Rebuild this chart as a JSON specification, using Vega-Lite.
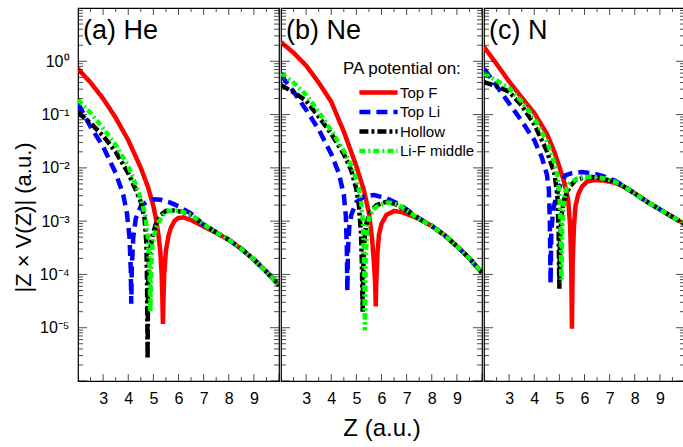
{
  "$schema": "https://vega.github.io/schema/vega-lite/v6.json",
  "padding": {"left": 11, "top": 7, "right": 0, "bottom": 0},
  "background": "white",
  "datasets": {
    "d": [
      {"p":"a","s":"Top F","z":2,"v":0.724},{"p":"a","s":"Top F","z":2.5,"v":0.398},{"p":"a","s":"Top F","z":3,"v":0.1995},{"p":"a","s":"Top F","z":3.5,"v":0.0871},{"p":"a","s":"Top F","z":4,"v":0.0331},{"p":"a","s":"Top F","z":4.5,"v":0.01},{"p":"a","s":"Top F","z":4.8,"v":0.00417},{"p":"a","s":"Top F","z":5,"v":0.001905},{"p":"a","s":"Top F","z":5.1,"v":0.001122},{"p":"a","s":"Top F","z":5.2,"v":0.000562},{"p":"a","s":"Top F","z":5.28,"v":0.000251},{"p":"a","s":"Top F","z":5.33,"v":0.0001},{"p":"a","s":"Top F","z":5.36,"v":0.0000316},{"p":"a","s":"Top F","z":5.38,"v":0.00001175},{"p":"a","s":"Top F","z":5.4,"v":0.0000316},{"p":"a","s":"Top F","z":5.43,"v":0.0001},{"p":"a","s":"Top F","z":5.5,"v":0.000282},{"p":"a","s":"Top F","z":5.6,"v":0.000525},{"p":"a","s":"Top F","z":5.7,"v":0.000759},{"p":"a","s":"Top F","z":5.85,"v":0.001023},{"p":"a","s":"Top F","z":6,"v":0.001148},{"p":"a","s":"Top F","z":6.2,"v":0.001175},{"p":"a","s":"Top F","z":6.5,"v":0.001047},{"p":"a","s":"Top F","z":7,"v":0.000794},{"p":"a","s":"Top F","z":7.5,"v":0.000603},{"p":"a","s":"Top F","z":8,"v":0.000447},{"p":"a","s":"Top F","z":8.5,"v":0.000302},{"p":"a","s":"Top F","z":9,"v":0.0001905},{"p":"a","s":"Top F","z":9.5,"v":0.0001122},{"p":"a","s":"Top F","z":10,"v":0.0000631},

      {"p":"a","s":"Top Li","z":2,"v":0.162},{"p":"a","s":"Top Li","z":2.5,"v":0.0589},{"p":"a","s":"Top Li","z":3,"v":0.0251},{"p":"a","s":"Top Li","z":3.5,"v":0.00794},{"p":"a","s":"Top Li","z":3.8,"v":0.00316},{"p":"a","s":"Top Li","z":3.95,"v":0.00138},{"p":"a","s":"Top Li","z":4.05,"v":0.000501},{"p":"a","s":"Top Li","z":4.1,"v":0.0001259},{"p":"a","s":"Top Li","z":4.12,"v":0.0000282},{"p":"a","s":"Top Li","z":4.14,"v":0.0001259},{"p":"a","s":"Top Li","z":4.2,"v":0.000501},{"p":"a","s":"Top Li","z":4.3,"v":0.001122},{"p":"a","s":"Top Li","z":4.5,"v":0.001905},{"p":"a","s":"Top Li","z":4.75,"v":0.002344},{"p":"a","s":"Top Li","z":5,"v":0.00257},{"p":"a","s":"Top Li","z":5.3,"v":0.00251},{"p":"a","s":"Top Li","z":5.6,"v":0.00229},{"p":"a","s":"Top Li","z":6,"v":0.001905},{"p":"a","s":"Top Li","z":6.5,"v":0.00138},{"p":"a","s":"Top Li","z":7,"v":0.000851},{"p":"a","s":"Top Li","z":7.5,"v":0.000617},{"p":"a","s":"Top Li","z":8,"v":0.000447},{"p":"a","s":"Top Li","z":8.5,"v":0.000302},{"p":"a","s":"Top Li","z":9,"v":0.0001905},{"p":"a","s":"Top Li","z":9.5,"v":0.0001122},{"p":"a","s":"Top Li","z":10,"v":0.0000631},

      {"p":"a","s":"Hollow","z":2,"v":0.1096},{"p":"a","s":"Hollow","z":2.5,"v":0.0692},{"p":"a","s":"Hollow","z":3,"v":0.0398},{"p":"a","s":"Hollow","z":3.5,"v":0.02},{"p":"a","s":"Hollow","z":4,"v":0.00794},{"p":"a","s":"Hollow","z":4.3,"v":0.00389},{"p":"a","s":"Hollow","z":4.5,"v":0.00229},{"p":"a","s":"Hollow","z":4.65,"v":0.001122},{"p":"a","s":"Hollow","z":4.72,"v":0.000398},{"p":"a","s":"Hollow","z":4.75,"v":0.0000631},{"p":"a","s":"Hollow","z":4.77,"v":0.00000263},{"p":"a","s":"Hollow","z":4.79,"v":0.0000631},{"p":"a","s":"Hollow","z":4.83,"v":0.0002},{"p":"a","s":"Hollow","z":4.95,"v":0.000501},{"p":"a","s":"Hollow","z":5.1,"v":0.000891},{"p":"a","s":"Hollow","z":5.3,"v":0.001318},{"p":"a","s":"Hollow","z":5.5,"v":0.001549},{"p":"a","s":"Hollow","z":5.8,"v":0.001585},{"p":"a","s":"Hollow","z":6.2,"v":0.001479},{"p":"a","s":"Hollow","z":6.5,"v":0.001318},{"p":"a","s":"Hollow","z":7,"v":0.000871},{"p":"a","s":"Hollow","z":7.5,"v":0.000617},{"p":"a","s":"Hollow","z":8,"v":0.000447},{"p":"a","s":"Hollow","z":8.5,"v":0.000302},{"p":"a","s":"Hollow","z":9,"v":0.0001905},{"p":"a","s":"Hollow","z":9.5,"v":0.0001122},{"p":"a","s":"Hollow","z":10,"v":0.0000631},

      {"p":"a","s":"Li-F middle","z":2,"v":0.1905},{"p":"a","s":"Li-F middle","z":2.5,"v":0.1072},{"p":"a","s":"Li-F middle","z":3,"v":0.055},{"p":"a","s":"Li-F middle","z":3.5,"v":0.0269},{"p":"a","s":"Li-F middle","z":4,"v":0.01072},{"p":"a","s":"Li-F middle","z":4.3,"v":0.00479},{"p":"a","s":"Li-F middle","z":4.5,"v":0.00263},{"p":"a","s":"Li-F middle","z":4.67,"v":0.00138},{"p":"a","s":"Li-F middle","z":4.78,"v":0.000501},{"p":"a","s":"Li-F middle","z":4.85,"v":0.0001259},{"p":"a","s":"Li-F middle","z":4.88,"v":0.00002},{"p":"a","s":"Li-F middle","z":4.91,"v":0.0001259},{"p":"a","s":"Li-F middle","z":4.96,"v":0.000355},{"p":"a","s":"Li-F middle","z":5.1,"v":0.000759},{"p":"a","s":"Li-F middle","z":5.22,"v":0.000977},{"p":"a","s":"Li-F middle","z":5.4,"v":0.001318},{"p":"a","s":"Li-F middle","z":5.6,"v":0.001549},{"p":"a","s":"Li-F middle","z":6,"v":0.001585},{"p":"a","s":"Li-F middle","z":6.5,"v":0.001318},{"p":"a","s":"Li-F middle","z":7,"v":0.000871},{"p":"a","s":"Li-F middle","z":7.5,"v":0.000617},{"p":"a","s":"Li-F middle","z":8,"v":0.000447},{"p":"a","s":"Li-F middle","z":8.5,"v":0.000302},{"p":"a","s":"Li-F middle","z":9,"v":0.0001905},{"p":"a","s":"Li-F middle","z":9.5,"v":0.0001122},{"p":"a","s":"Li-F middle","z":10,"v":0.0000631},

      {"p":"b","s":"Top F","z":2,"v":2.29},{"p":"b","s":"Top F","z":2.5,"v":1.445},{"p":"b","s":"Top F","z":3,"v":0.832},{"p":"b","s":"Top F","z":3.5,"v":0.398},{"p":"b","s":"Top F","z":4,"v":0.174},{"p":"b","s":"Top F","z":4.5,"v":0.0479},{"p":"b","s":"Top F","z":5,"v":0.01072},{"p":"b","s":"Top F","z":5.3,"v":0.0038},{"p":"b","s":"Top F","z":5.5,"v":0.001413},{"p":"b","s":"Top F","z":5.62,"v":0.000501},{"p":"b","s":"Top F","z":5.7,"v":0.0001585},{"p":"b","s":"Top F","z":5.75,"v":0.0000631},{"p":"b","s":"Top F","z":5.77,"v":0.0000251},{"p":"b","s":"Top F","z":5.79,"v":0.0000631},{"p":"b","s":"Top F","z":5.84,"v":0.000251},{"p":"b","s":"Top F","z":5.9,"v":0.000562},{"p":"b","s":"Top F","z":6,"v":0.000891},{"p":"b","s":"Top F","z":6.2,"v":0.001318},{"p":"b","s":"Top F","z":6.5,"v":0.001549},{"p":"b","s":"Top F","z":6.8,"v":0.001479},{"p":"b","s":"Top F","z":7.2,"v":0.001259},{"p":"b","s":"Top F","z":7.5,"v":0.001096},{"p":"b","s":"Top F","z":8,"v":0.000813},{"p":"b","s":"Top F","z":8.5,"v":0.00055},{"p":"b","s":"Top F","z":9,"v":0.000339},{"p":"b","s":"Top F","z":9.5,"v":0.0002},{"p":"b","s":"Top F","z":10,"v":0.0001072},

      {"p":"b","s":"Top Li","z":2,"v":0.55},{"p":"b","s":"Top Li","z":2.5,"v":0.269},{"p":"b","s":"Top Li","z":3,"v":0.123},{"p":"b","s":"Top Li","z":3.5,"v":0.0525},{"p":"b","s":"Top Li","z":4,"v":0.0182},{"p":"b","s":"Top Li","z":4.3,"v":0.00794},{"p":"b","s":"Top Li","z":4.5,"v":0.00316},{"p":"b","s":"Top Li","z":4.58,"v":0.001259},{"p":"b","s":"Top Li","z":4.62,"v":0.000316},{"p":"b","s":"Top Li","z":4.64,"v":0.0000479},{"p":"b","s":"Top Li","z":4.67,"v":0.000316},{"p":"b","s":"Top Li","z":4.72,"v":0.000794},{"p":"b","s":"Top Li","z":4.8,"v":0.001318},{"p":"b","s":"Top Li","z":5,"v":0.00229},{"p":"b","s":"Top Li","z":5.3,"v":0.00288},{"p":"b","s":"Top Li","z":5.7,"v":0.00309},{"p":"b","s":"Top Li","z":6.2,"v":0.00269},{"p":"b","s":"Top Li","z":6.6,"v":0.00219},{"p":"b","s":"Top Li","z":7,"v":0.00166},{"p":"b","s":"Top Li","z":7.5,"v":0.001122},{"p":"b","s":"Top Li","z":8,"v":0.000813},{"p":"b","s":"Top Li","z":8.5,"v":0.00055},{"p":"b","s":"Top Li","z":9,"v":0.000339},{"p":"b","s":"Top Li","z":9.5,"v":0.0002},{"p":"b","s":"Top Li","z":10,"v":0.0001072},

      {"p":"b","s":"Hollow","z":2,"v":0.355},{"p":"b","s":"Hollow","z":2.5,"v":0.263},{"p":"b","s":"Hollow","z":3,"v":0.182},{"p":"b","s":"Hollow","z":3.5,"v":0.0912},{"p":"b","s":"Hollow","z":4,"v":0.0437},{"p":"b","s":"Hollow","z":4.5,"v":0.0182},{"p":"b","s":"Hollow","z":4.8,"v":0.00891},{"p":"b","s":"Hollow","z":5,"v":0.00398},{"p":"b","s":"Hollow","z":5.1,"v":0.002},{"p":"b","s":"Hollow","z":5.18,"v":0.000631},{"p":"b","s":"Hollow","z":5.22,"v":0.0001585},{"p":"b","s":"Hollow","z":5.25,"v":0.00002},{"p":"b","s":"Hollow","z":5.28,"v":0.0001585},{"p":"b","s":"Hollow","z":5.33,"v":0.000501},{"p":"b","s":"Hollow","z":5.4,"v":0.000912},{"p":"b","s":"Hollow","z":5.55,"v":0.001479},{"p":"b","s":"Hollow","z":5.8,"v":0.002},{"p":"b","s":"Hollow","z":6.16,"v":0.00229},{"p":"b","s":"Hollow","z":6.5,"v":0.00214},{"p":"b","s":"Hollow","z":7,"v":0.001585},{"p":"b","s":"Hollow","z":7.5,"v":0.001096},{"p":"b","s":"Hollow","z":8,"v":0.000813},{"p":"b","s":"Hollow","z":8.5,"v":0.00055},{"p":"b","s":"Hollow","z":9,"v":0.000339},{"p":"b","s":"Hollow","z":9.5,"v":0.0002},{"p":"b","s":"Hollow","z":10,"v":0.0001072},

      {"p":"b","s":"Li-F middle","z":2,"v":0.589},{"p":"b","s":"Li-F middle","z":2.5,"v":0.398},{"p":"b","s":"Li-F middle","z":3,"v":0.234},{"p":"b","s":"Li-F middle","z":3.5,"v":0.1122},{"p":"b","s":"Li-F middle","z":4,"v":0.0501},{"p":"b","s":"Li-F middle","z":4.5,"v":0.0209},{"p":"b","s":"Li-F middle","z":4.85,"v":0.00977},{"p":"b","s":"Li-F middle","z":5.05,"v":0.00501},{"p":"b","s":"Li-F middle","z":5.18,"v":0.00263},{"p":"b","s":"Li-F middle","z":5.26,"v":0.001},{"p":"b","s":"Li-F middle","z":5.31,"v":0.0002},{"p":"b","s":"Li-F middle","z":5.34,"v":0.00000891},{"p":"b","s":"Li-F middle","z":5.37,"v":0.0002},{"p":"b","s":"Li-F middle","z":5.42,"v":0.000631},{"p":"b","s":"Li-F middle","z":5.51,"v":0.001202},{"p":"b","s":"Li-F middle","z":5.7,"v":0.001698},{"p":"b","s":"Li-F middle","z":5.9,"v":0.002},{"p":"b","s":"Li-F middle","z":6.3,"v":0.00224},{"p":"b","s":"Li-F middle","z":6.7,"v":0.002},{"p":"b","s":"Li-F middle","z":7,"v":0.001585},{"p":"b","s":"Li-F middle","z":7.5,"v":0.001096},{"p":"b","s":"Li-F middle","z":8,"v":0.000813},{"p":"b","s":"Li-F middle","z":8.5,"v":0.00055},{"p":"b","s":"Li-F middle","z":9,"v":0.000339},{"p":"b","s":"Li-F middle","z":9.5,"v":0.0002},{"p":"b","s":"Li-F middle","z":10,"v":0.0001072},

      {"p":"c","s":"Top F","z":2,"v":1.862},{"p":"c","s":"Top F","z":2.5,"v":0.891},{"p":"c","s":"Top F","z":3,"v":0.417},{"p":"c","s":"Top F","z":3.5,"v":0.209},{"p":"c","s":"Top F","z":4,"v":0.1072},{"p":"c","s":"Top F","z":4.5,"v":0.0437},{"p":"c","s":"Top F","z":4.8,"v":0.02},{"p":"c","s":"Top F","z":5,"v":0.01047},{"p":"c","s":"Top F","z":5.2,"v":0.00525},{"p":"c","s":"Top F","z":5.35,"v":0.00251},{"p":"c","s":"Top F","z":5.43,"v":0.000794},{"p":"c","s":"Top F","z":5.47,"v":0.0001585},{"p":"c","s":"Top F","z":5.5,"v":0.00000955},{"p":"c","s":"Top F","z":5.53,"v":0.0001585},{"p":"c","s":"Top F","z":5.58,"v":0.000794},{"p":"c","s":"Top F","z":5.64,"v":0.001905},{"p":"c","s":"Top F","z":5.75,"v":0.00316},{"p":"c","s":"Top F","z":5.9,"v":0.00447},{"p":"c","s":"Top F","z":6.1,"v":0.0055},{"p":"c","s":"Top F","z":6.4,"v":0.00589},{"p":"c","s":"Top F","z":6.8,"v":0.00575},{"p":"c","s":"Top F","z":7.2,"v":0.00525},{"p":"c","s":"Top F","z":7.5,"v":0.00457},{"p":"c","s":"Top F","z":8,"v":0.00331},{"p":"c","s":"Top F","z":8.5,"v":0.00229},{"p":"c","s":"Top F","z":9,"v":0.00166},{"p":"c","s":"Top F","z":9.5,"v":0.001202},{"p":"c","s":"Top F","z":10,"v":0.000871},

      {"p":"c","s":"Top Li","z":2,"v":0.724},{"p":"c","s":"Top Li","z":2.5,"v":0.347},{"p":"c","s":"Top Li","z":3,"v":0.162},{"p":"c","s":"Top Li","z":3.5,"v":0.0759},{"p":"c","s":"Top Li","z":4,"v":0.0331},{"p":"c","s":"Top Li","z":4.3,"v":0.01585},{"p":"c","s":"Top Li","z":4.5,"v":0.00759},{"p":"c","s":"Top Li","z":4.58,"v":0.00398},{"p":"c","s":"Top Li","z":4.62,"v":0.001},{"p":"c","s":"Top Li","z":4.65,"v":0.0000676},{"p":"c","s":"Top Li","z":4.68,"v":0.000631},{"p":"c","s":"Top Li","z":4.75,"v":0.001585},{"p":"c","s":"Top Li","z":4.85,"v":0.00263},{"p":"c","s":"Top Li","z":5,"v":0.00437},{"p":"c","s":"Top Li","z":5.24,"v":0.00724},{"p":"c","s":"Top Li","z":5.5,"v":0.00794},{"p":"c","s":"Top Li","z":5.9,"v":0.00832},{"p":"c","s":"Top Li","z":6.3,"v":0.00794},{"p":"c","s":"Top Li","z":6.7,"v":0.00708},{"p":"c","s":"Top Li","z":7.2,"v":0.00575},{"p":"c","s":"Top Li","z":7.5,"v":0.00479},{"p":"c","s":"Top Li","z":8,"v":0.00331},{"p":"c","s":"Top Li","z":8.5,"v":0.00229},{"p":"c","s":"Top Li","z":9,"v":0.00166},{"p":"c","s":"Top Li","z":9.5,"v":0.001202},{"p":"c","s":"Top Li","z":10,"v":0.000871},

      {"p":"c","s":"Hollow","z":2,"v":0.407},{"p":"c","s":"Hollow","z":2.5,"v":0.339},{"p":"c","s":"Hollow","z":3,"v":0.269},{"p":"c","s":"Hollow","z":3.5,"v":0.148},{"p":"c","s":"Hollow","z":4,"v":0.0661},{"p":"c","s":"Hollow","z":4.5,"v":0.0209},{"p":"c","s":"Hollow","z":4.8,"v":0.00794},{"p":"c","s":"Hollow","z":4.92,"v":0.00316},{"p":"c","s":"Hollow","z":4.97,"v":0.000631},{"p":"c","s":"Hollow","z":5,"v":0.0000537},{"p":"c","s":"Hollow","z":5.03,"v":0.000501},{"p":"c","s":"Hollow","z":5.1,"v":0.001413},{"p":"c","s":"Hollow","z":5.18,"v":0.00251},{"p":"c","s":"Hollow","z":5.4,"v":0.00437},{"p":"c","s":"Hollow","z":5.64,"v":0.00589},{"p":"c","s":"Hollow","z":6,"v":0.00661},{"p":"c","s":"Hollow","z":6.3,"v":0.00676},{"p":"c","s":"Hollow","z":6.7,"v":0.00631},{"p":"c","s":"Hollow","z":7.2,"v":0.0055},{"p":"c","s":"Hollow","z":7.5,"v":0.00468},{"p":"c","s":"Hollow","z":8,"v":0.00331},{"p":"c","s":"Hollow","z":8.5,"v":0.00229},{"p":"c","s":"Hollow","z":9,"v":0.00166},{"p":"c","s":"Hollow","z":9.5,"v":0.001202},{"p":"c","s":"Hollow","z":10,"v":0.000871},

      {"p":"c","s":"Li-F middle","z":2,"v":0.589},{"p":"c","s":"Li-F middle","z":2.5,"v":0.437},{"p":"c","s":"Li-F middle","z":3,"v":0.316},{"p":"c","s":"Li-F middle","z":3.5,"v":0.174},{"p":"c","s":"Li-F middle","z":4,"v":0.0851},{"p":"c","s":"Li-F middle","z":4.5,"v":0.0316},{"p":"c","s":"Li-F middle","z":4.8,"v":0.01259},{"p":"c","s":"Li-F middle","z":4.92,"v":0.00724},{"p":"c","s":"Li-F middle","z":5,"v":0.00316},{"p":"c","s":"Li-F middle","z":5.05,"v":0.000794},{"p":"c","s":"Li-F middle","z":5.08,"v":0.0000794},{"p":"c","s":"Li-F middle","z":5.11,"v":0.000631},{"p":"c","s":"Li-F middle","z":5.16,"v":0.001778},{"p":"c","s":"Li-F middle","z":5.24,"v":0.00355},{"p":"c","s":"Li-F middle","z":5.4,"v":0.00501},{"p":"c","s":"Li-F middle","z":5.7,"v":0.00631},{"p":"c","s":"Li-F middle","z":6,"v":0.00676},{"p":"c","s":"Li-F middle","z":6.4,"v":0.00676},{"p":"c","s":"Li-F middle","z":6.8,"v":0.00631},{"p":"c","s":"Li-F middle","z":7.2,"v":0.0055},{"p":"c","s":"Li-F middle","z":7.5,"v":0.00468},{"p":"c","s":"Li-F middle","z":8,"v":0.00331},{"p":"c","s":"Li-F middle","z":8.5,"v":0.00229},{"p":"c","s":"Li-F middle","z":9,"v":0.00166},{"p":"c","s":"Li-F middle","z":9.5,"v":0.001202},{"p":"c","s":"Li-F middle","z":10,"v":0.000871}
    ],
    "labels": [
      {"p": "a", "t": "(a) He", "z": 2.2, "v": 2.67},
      {"p": "b", "t": "(b) Ne", "z": 2.2, "v": 2.67},
      {"p": "c", "t": "(c) N", "z": 2.2, "v": 2.67}
    ],
    "yt": [
      {"v":0.000001,"m":1},{"v":0.000002,"m":0},{"v":0.000003,"m":0},{"v":0.000004,"m":0},{"v":0.000005,"m":0},{"v":0.000006,"m":0},{"v":0.000007,"m":0},{"v":0.000008,"m":0},{"v":0.000009,"m":0},
      {"v":0.00001,"m":1},{"v":0.00002,"m":0},{"v":0.00003,"m":0},{"v":0.00004,"m":0},{"v":0.00005,"m":0},{"v":0.00006,"m":0},{"v":0.00007,"m":0},{"v":0.00008,"m":0},{"v":0.00009,"m":0},
      {"v":0.0001,"m":1},{"v":0.0002,"m":0},{"v":0.0003,"m":0},{"v":0.0004,"m":0},{"v":0.0005,"m":0},{"v":0.0006,"m":0},{"v":0.0007,"m":0},{"v":0.0008,"m":0},{"v":0.0009,"m":0},
      {"v":0.001,"m":1},{"v":0.002,"m":0},{"v":0.003,"m":0},{"v":0.004,"m":0},{"v":0.005,"m":0},{"v":0.006,"m":0},{"v":0.007,"m":0},{"v":0.008,"m":0},{"v":0.009,"m":0},
      {"v":0.01,"m":1},{"v":0.02,"m":0},{"v":0.03,"m":0},{"v":0.04,"m":0},{"v":0.05,"m":0},{"v":0.06,"m":0},{"v":0.07,"m":0},{"v":0.08,"m":0},{"v":0.09,"m":0},
      {"v":0.1,"m":1},{"v":0.2,"m":0},{"v":0.3,"m":0},{"v":0.4,"m":0},{"v":0.5,"m":0},{"v":0.6,"m":0},{"v":0.7,"m":0},{"v":0.8,"m":0},{"v":0.9,"m":0},
      {"v":1,"m":1},{"v":2,"m":0},{"v":3,"m":0},{"v":4,"m":0},{"v":5,"m":0},{"v":6,"m":0},{"v":7,"m":0},{"v":8,"m":0},{"v":9,"m":0},{"v":10,"m":1}
    ],
    "xt": [
      {"v":2,"m":1},{"v":2.5,"m":0},{"v":3,"m":1},{"v":3.5,"m":0},{"v":4,"m":1},{"v":4.5,"m":0},{"v":5,"m":1},{"v":5.5,"m":0},{"v":6,"m":1},{"v":6.5,"m":0},{"v":7,"m":1},{"v":7.5,"m":0},{"v":8,"m":1},{"v":8.5,"m":0},{"v":9,"m":1},{"v":9.5,"m":0},{"v":10,"m":1}
    ]
  },
  "spacing": 0,
  "hconcat": [
    {
      "width": 201, "height": 373,
      "layer": [
        {
          "data": {"name": "d"},
          "transform": [{"filter": "datum.p == 'a'"}],
          "mark": {"type": "line", "clip": true},
          "encoding": {
            "x": {"field": "z", "type": "quantitative", "scale": {"domain": [2, 10], "nice": false},
              "axis": {"orient": "bottom", "title": null, "domain": false, "ticks": false, "values": [3,4,5,6,7,8,9],
                "labelPadding": 9, "labelFlush": false, "labelFontSize": 16}},
            "y": {"field": "v", "type": "quantitative", "scale": {"type": "log", "domain": [0.000001, 10], "nice": false},
              "axis": {"orient": "left", "title": "|Z × V(Z)| (a.u.)", "titleFontSize": 22, "titlePadding": 4, "titleY": 209,
                "domain": false, "ticks": false, "values": [0.00001,0.0001,0.001,0.01,0.1,1],
                "labelExpr": "datum.value == 1 ? '10⁰' : datum.value == 0.1 ? '10⁻¹' : datum.value == 0.01 ? '10⁻²' : datum.value == 0.001 ? '10⁻³' : datum.value == 0.0001 ? '10⁻⁴' : datum.value == 0.00001 ? '10⁻⁵' : ''",
                "labelPadding": 9, "labelFlush": false, "labelFontSize": 16}},
            "color": {"field": "s", "type": "nominal", "title": "PA potential on:", "scale": {"domain": ["Top F", "Top Li", "Hollow", "Li-F middle"], "range": ["#ff0000", "#0000ff", "#000000", "#00ff00"]}},
            "strokeDash": {"field": "s", "type": "nominal", "title": "PA potential on:", "scale": {"domain": ["Top F", "Top Li", "Hollow", "Li-F middle"], "range": [[1, 0], [11, 6], [9, 3, 3, 3], [6, 3, 2, 3]]}},
            "strokeWidth": {"field": "s", "type": "nominal", "title": "PA potential on:", "scale": {"domain": ["Top F", "Top Li", "Hollow", "Li-F middle"], "range": [4.5, 4.5, 2, 2]}}
          }
        },
        {
          "data": {"name": "yt"},
          "mark": {"type": "tick", "orient": "horizontal", "clip": true, "color": "black", "thickness": 1},
          "encoding": {
            "y": {"field": "v", "type": "quantitative", "axis": null},
            "x": {"datum": 2, "type": "quantitative", "axis": null},
            "size": {"condition": {"test": "datum.m == 1", "value": 18}, "value": 10}
          }
        },
        {
          "data": {"name": "yt"},
          "mark": {"type": "tick", "orient": "horizontal", "clip": true, "color": "black", "thickness": 1},
          "encoding": {
            "y": {"field": "v", "type": "quantitative", "axis": null},
            "x": {"datum": 10, "type": "quantitative", "axis": null},
            "size": {"condition": {"test": "datum.m == 1", "value": 18}, "value": 10}
          }
        },
        {
          "data": {"name": "xt"},
          "mark": {"type": "tick", "orient": "vertical", "clip": true, "color": "black", "thickness": 1},
          "encoding": {
            "x": {"field": "v", "type": "quantitative", "axis": null},
            "y": {"datum": 0.000001, "type": "quantitative", "axis": null},
            "size": {"condition": {"test": "datum.m == 1", "value": 14}, "value": 8}
          }
        },
        {
          "data": {"name": "xt"},
          "mark": {"type": "tick", "orient": "vertical", "clip": true, "color": "black", "thickness": 1},
          "encoding": {
            "x": {"field": "v", "type": "quantitative", "axis": null},
            "y": {"datum": 10, "type": "quantitative", "axis": null},
            "size": {"condition": {"test": "datum.m == 1", "value": 14}, "value": 8}
          }
        },
        {
          "data": {"name": "labels"},
          "transform": [{"filter": "datum.p == 'a'"}],
          "mark": {"type": "text", "align": "left", "baseline": "alphabetic", "fontSize": 27, "fontWeight": "normal", "color": "black"},
          "encoding": {
            "x": {"field": "z", "type": "quantitative", "axis": null},
            "y": {"field": "v", "type": "quantitative", "axis": null},
            "text": {"field": "t"}
          }
        }
      ],
      "resolve": {"axis": {"x": "independent", "y": "independent"}}
    },
    {
      "width": 201, "height": 373,
      "layer": [
        {
          "data": {"name": "d"},
          "transform": [{"filter": "datum.p == 'b'"}],
          "mark": {"type": "line", "clip": true},
          "encoding": {
            "x": {"field": "z", "type": "quantitative", "scale": {"domain": [2, 10], "nice": false},
              "axis": {"orient": "bottom", "title": "Z (a.u.)", "titleFontSize": 24, "titlePadding": 10, "domain": false, "ticks": false, "values": [3,4,5,6,7,8,9],
                "labelPadding": 9, "labelFlush": false, "labelFontSize": 16}},
            "y": {"field": "v", "type": "quantitative", "scale": {"type": "log", "domain": [0.000001, 10], "nice": false}, "axis": null},
            "color": {"field": "s", "type": "nominal", "title": "PA potential on:", "scale": {"domain": ["Top F", "Top Li", "Hollow", "Li-F middle"], "range": ["#ff0000", "#0000ff", "#000000", "#00ff00"]}},
            "strokeDash": {"field": "s", "type": "nominal", "title": "PA potential on:", "scale": {"domain": ["Top F", "Top Li", "Hollow", "Li-F middle"], "range": [[1, 0], [11, 6], [9, 3, 3, 3], [6, 3, 2, 3]]}},
            "strokeWidth": {"field": "s", "type": "nominal", "title": "PA potential on:", "scale": {"domain": ["Top F", "Top Li", "Hollow", "Li-F middle"], "range": [4.5, 4.5, 2, 2]}}
          }
        },
        {
          "data": {"name": "yt"},
          "mark": {"type": "tick", "orient": "horizontal", "clip": true, "color": "black", "thickness": 1},
          "encoding": {
            "y": {"field": "v", "type": "quantitative", "axis": null},
            "x": {"datum": 2, "type": "quantitative", "axis": null},
            "size": {"condition": {"test": "datum.m == 1", "value": 18}, "value": 10}
          }
        },
        {
          "data": {"name": "yt"},
          "mark": {"type": "tick", "orient": "horizontal", "clip": true, "color": "black", "thickness": 1},
          "encoding": {
            "y": {"field": "v", "type": "quantitative", "axis": null},
            "x": {"datum": 10, "type": "quantitative", "axis": null},
            "size": {"condition": {"test": "datum.m == 1", "value": 18}, "value": 10}
          }
        },
        {
          "data": {"name": "xt"},
          "mark": {"type": "tick", "orient": "vertical", "clip": true, "color": "black", "thickness": 1},
          "encoding": {
            "x": {"field": "v", "type": "quantitative", "axis": null},
            "y": {"datum": 0.000001, "type": "quantitative", "axis": null},
            "size": {"condition": {"test": "datum.m == 1", "value": 14}, "value": 8}
          }
        },
        {
          "data": {"name": "xt"},
          "mark": {"type": "tick", "orient": "vertical", "clip": true, "color": "black", "thickness": 1},
          "encoding": {
            "x": {"field": "v", "type": "quantitative", "axis": null},
            "y": {"datum": 10, "type": "quantitative", "axis": null},
            "size": {"condition": {"test": "datum.m == 1", "value": 14}, "value": 8}
          }
        },
        {
          "data": {"name": "labels"},
          "transform": [{"filter": "datum.p == 'b'"}],
          "mark": {"type": "text", "align": "left", "baseline": "alphabetic", "fontSize": 27, "fontWeight": "normal", "color": "black"},
          "encoding": {
            "x": {"field": "z", "type": "quantitative", "axis": null},
            "y": {"field": "v", "type": "quantitative", "axis": null},
            "text": {"field": "t"}
          }
        }
      ],
      "resolve": {"axis": {"x": "independent", "y": "independent"}}
    },
    {
      "width": 201, "height": 373,
      "layer": [
        {
          "data": {"name": "d"},
          "transform": [{"filter": "datum.p == 'c'"}],
          "mark": {"type": "line", "clip": true},
          "encoding": {
            "x": {"field": "z", "type": "quantitative", "scale": {"domain": [2, 10], "nice": false},
              "axis": {"orient": "bottom", "title": null, "domain": false, "ticks": false, "values": [3,4,5,6,7,8,9],
                "labelPadding": 9, "labelFlush": false, "labelFontSize": 16}},
            "y": {"field": "v", "type": "quantitative", "scale": {"type": "log", "domain": [0.000001, 10], "nice": false}, "axis": null},
            "color": {"field": "s", "type": "nominal", "title": "PA potential on:", "scale": {"domain": ["Top F", "Top Li", "Hollow", "Li-F middle"], "range": ["#ff0000", "#0000ff", "#000000", "#00ff00"]}},
            "strokeDash": {"field": "s", "type": "nominal", "title": "PA potential on:", "scale": {"domain": ["Top F", "Top Li", "Hollow", "Li-F middle"], "range": [[1, 0], [11, 6], [9, 3, 3, 3], [6, 3, 2, 3]]}},
            "strokeWidth": {"field": "s", "type": "nominal", "title": "PA potential on:", "scale": {"domain": ["Top F", "Top Li", "Hollow", "Li-F middle"], "range": [4.5, 4.5, 2, 2]}}
          }
        },
        {
          "data": {"name": "yt"},
          "mark": {"type": "tick", "orient": "horizontal", "clip": true, "color": "black", "thickness": 1},
          "encoding": {
            "y": {"field": "v", "type": "quantitative", "axis": null},
            "x": {"datum": 2, "type": "quantitative", "axis": null},
            "size": {"condition": {"test": "datum.m == 1", "value": 18}, "value": 10}
          }
        },
        {
          "data": {"name": "yt"},
          "mark": {"type": "tick", "orient": "horizontal", "clip": true, "color": "black", "thickness": 1},
          "encoding": {
            "y": {"field": "v", "type": "quantitative", "axis": null},
            "x": {"datum": 10, "type": "quantitative", "axis": null},
            "size": {"condition": {"test": "datum.m == 1", "value": 18}, "value": 10}
          }
        },
        {
          "data": {"name": "xt"},
          "mark": {"type": "tick", "orient": "vertical", "clip": true, "color": "black", "thickness": 1},
          "encoding": {
            "x": {"field": "v", "type": "quantitative", "axis": null},
            "y": {"datum": 0.000001, "type": "quantitative", "axis": null},
            "size": {"condition": {"test": "datum.m == 1", "value": 14}, "value": 8}
          }
        },
        {
          "data": {"name": "xt"},
          "mark": {"type": "tick", "orient": "vertical", "clip": true, "color": "black", "thickness": 1},
          "encoding": {
            "x": {"field": "v", "type": "quantitative", "axis": null},
            "y": {"datum": 10, "type": "quantitative", "axis": null},
            "size": {"condition": {"test": "datum.m == 1", "value": 14}, "value": 8}
          }
        },
        {
          "data": {"name": "labels"},
          "transform": [{"filter": "datum.p == 'c'"}],
          "mark": {"type": "text", "align": "left", "baseline": "alphabetic", "fontSize": 27, "fontWeight": "normal", "color": "black"},
          "encoding": {
            "x": {"field": "z", "type": "quantitative", "axis": null},
            "y": {"field": "v", "type": "quantitative", "axis": null},
            "text": {"field": "t"}
          }
        }
      ],
      "resolve": {"axis": {"x": "independent", "y": "independent"}}
    }
  ],
  "resolve": {"scale": {"color": "shared", "strokeDash": "shared", "strokeWidth": "shared"}},
  "config": {
    "font": "Liberation Sans",
    "view": {"stroke": "black", "strokeWidth": 1.2},
    "concat": {"spacing": 0},
    "axis": {"labelColor": "black", "titleColor": "black", "grid": false, "titleFontWeight": "normal", "labelFont": "Liberation Sans", "titleFont": "Liberation Sans"},
    "legend": {
      "orient": "none", "legendX": 265, "legendY": 53,
      "titleFontSize": 17, "titleFontWeight": "normal", "titleColor": "black", "titlePadding": 5,
      "labelFontSize": 15, "labelColor": "black",
      "symbolType": "M-2.7,0H2.7", "symbolSize": 200, "symbolOffset": 26, "labelOffset": 12, "rowPadding": 0.5
    }
  }
}
